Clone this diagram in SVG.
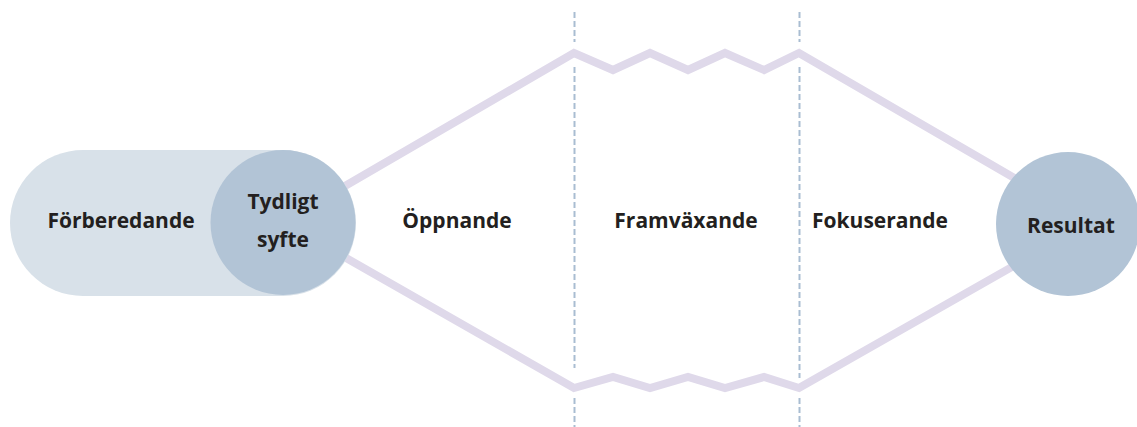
<svg xmlns="http://www.w3.org/2000/svg" width="1137" height="427" viewBox="0 0 1137 427">
<style>
.lbl{font-family:"Open Sans","Liberation Sans",sans-serif;font-weight:700;font-size:21px;fill:#231f20;text-anchor:middle}
.flow{fill:none;stroke:#dfd9ea;stroke-width:8;stroke-linejoin:miter}
.div{stroke:#a9bdd2;stroke-width:2;stroke-dasharray:6 3}
.circ{fill:#b2c4d6}
</style>
<rect width="1137" height="427" fill="#ffffff"/>
<g id="dividers">
<line class="div" x1="574.5" y1="12" x2="574.5" y2="42"/>
<line class="div" x1="574.5" y1="67" x2="574.5" y2="368"/>
<line class="div" x1="574.5" y1="398" x2="574.5" y2="427"/>
<line class="div" x1="799.5" y1="12" x2="799.5" y2="42"/>
<line class="div" x1="799.5" y1="67" x2="799.5" y2="378"/>
<line class="div" x1="799.5" y1="398" x2="799.5" y2="427"/>
</g>
<g id="connectors">
<polyline class="flow" points="283,222 574,53 613,70 650,53 688,70 725,53 764,70 799,53 1040,193"/>
<polyline class="flow" points="283,222 574,388 613,377 650,388 688,377 725,388 764,377 799,388 1040,251"/>
</g>
<g id="forberedande">
<rect x="10" y="150" width="346" height="146" rx="73" fill="#d8e1e9"/>
<text class="lbl" x="121" y="228">Förberedande</text>
</g>
<g id="tydligt-syfte">
<circle class="circ" cx="283" cy="222.5" r="72.5"/>
<text class="lbl" x="283" y="209">Tydligt</text>
<text class="lbl" x="283" y="247">syfte</text>
</g>
<g id="oppnande"><text class="lbl" x="457" y="228">Öppnande</text></g>
<g id="framvaxande"><text class="lbl" x="686" y="228">Framväxande</text></g>
<g id="fokuserande"><text class="lbl" x="880" y="228">Fokuserande</text></g>
<g id="resultat">
<circle class="circ" cx="1068" cy="224" r="72"/>
<text class="lbl" x="1071" y="233">Resultat</text>
</g>
</svg>
